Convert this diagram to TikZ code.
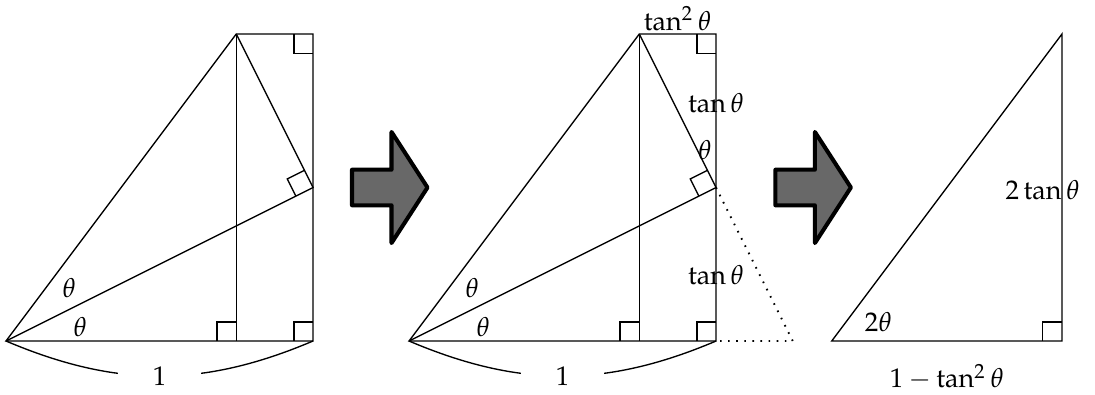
\documentclass[tikz,border=0pt]{standalone}
\usepackage{amsmath}
\usepackage{mathpazo}
\usepackage{tikz}
\usetikzlibrary{calc}
\definecolor{arrowgray}{RGB}{104,104,104}
\tikzset{
  edge/.style={line width=0.5pt, color=black},
  dotedge/.style={line width=0.7pt, dash pattern=on 0.6pt off 2.4pt},
  ramark/.style={line width=0.5pt, color=black},
  lbl/.style={inner sep=1pt},
  unitlbl/.style={fill=white, inner xsep=13pt, inner ysep=2pt},
  fatarrow/.pic={
    \draw[line width=1.5pt, line join=round, fill=arrowgray]
      (0,-0.058) -- (0.1287,-0.058) -- (0.1287,-0.181) -- (0.2459,0)
      -- (0.1287,0.181) -- (0.1287,0.058) -- (0,0.058) -- cycle;
  }
}
% right angle mark at #2 between #1 and #3
\newcommand{\ramark}[3]{%
  \draw[ramark] ($(#2)!0.25cm!(#1)$)
    -- ($(#2)!0.25cm!(#1) + (#2)!0.25cm!(#3) - (#2)$)
    -- ($(#2)!0.25cm!(#3)$);}

\begin{document}
\begin{tikzpicture}[x=4cm, y=4cm]
  \useasboundingbox (-0.0195,-0.1726) rectangle (3.547,1.1107);

  % First figure
  \coordinate (O1) at (0,0);
  \coordinate (F1) at (0.75,0);
  \coordinate (B1) at (1,0);
  \coordinate (Q1) at (1,0.5);
  \coordinate (P1) at (0.75,1);
  \coordinate (R1) at (1,1);
  \draw[edge] (O1) -- (B1) -- (R1) -- (P1) -- cycle;
  \draw[edge] (P1) -- (F1);
  \draw[edge] (O1) -- (Q1) -- (P1);
  \ramark{O1}{F1}{P1}
  \ramark{O1}{B1}{R1}
  \ramark{P1}{R1}{B1}
  \ramark{O1}{Q1}{P1}
  \draw[edge] (O1) to[bend right=23] node[unitlbl] (one1) {$1$} (B1);
  \node[lbl] (th1a) at (0.206,0.173) {$\theta$};
  \node[lbl] (th1b) at (0.242,0.046) {$\theta$};

  % Arrow
  \pic (arr1) at (1.127,0.5) {fatarrow};

  % Second figure
  \begin{scope}[xshift=5.2508cm]
    \coordinate (O2) at (0,0);
    \coordinate (F2) at (0.75,0);
    \coordinate (B2) at (1,0);
    \coordinate (Q2) at (1,0.5);
    \coordinate (P2) at (0.75,1);
    \coordinate (R2) at (1,1);
    \coordinate (D2) at (1.25,0);
    \draw[edge] (O2) -- (B2) -- (R2) -- (P2) -- cycle;
    \draw[edge] (P2) -- (F2);
    \draw[edge] (O2) -- (Q2) -- (P2);
    \draw[dotedge] (Q2) -- (D2) -- (B2);
    \ramark{O2}{F2}{P2}
    \ramark{O2}{B2}{R2}
    \ramark{P2}{R2}{B2}
    \ramark{O2}{Q2}{P2}
    \draw[edge] (O2) to[bend right=23] node[unitlbl] (one2) {$1$} (B2);
    \node[lbl] (th2a) at (0.206,0.173) {$\theta$};
    \node[lbl] (th2b) at (0.242,0.046) {$\theta$};
    \node[lbl, above] (tsq2) at ($(P2)!0.5!(R2)$) {$\tan^2\theta$};
    \node[lbl] (tup2) at (1,0.775) {$\tan\theta$};
    \node[lbl] (thq2) at (0.964,0.622) {$\theta$};
    \node[lbl] (tlo2) at (1,0.215) {$\tan\theta$};
  \end{scope}

  % Arrow
  \pic (arr2) at (2.506,0.5) {fatarrow};

  % Third figure
  \begin{scope}[xshift=10.758cm]
    \coordinate (O3) at (0,0);
    \coordinate (B3) at (0.75,0);
    \coordinate (T3) at (0.75,1);
    \draw[edge] (O3) -- (B3) -- (T3) -- cycle;
    \ramark{O3}{B3}{T3}
    \node[lbl] (tth3) at (0.152,0.063) {$2\theta$};
    \node[lbl] (ttan3) at (0.687,0.492) {$2\tan\theta$};
    \node[inner sep=0pt] (tbase3) at (0.375,-0.118) {$1-\tan^2\theta$};
  \end{scope}
\end{tikzpicture}
\end{document}
